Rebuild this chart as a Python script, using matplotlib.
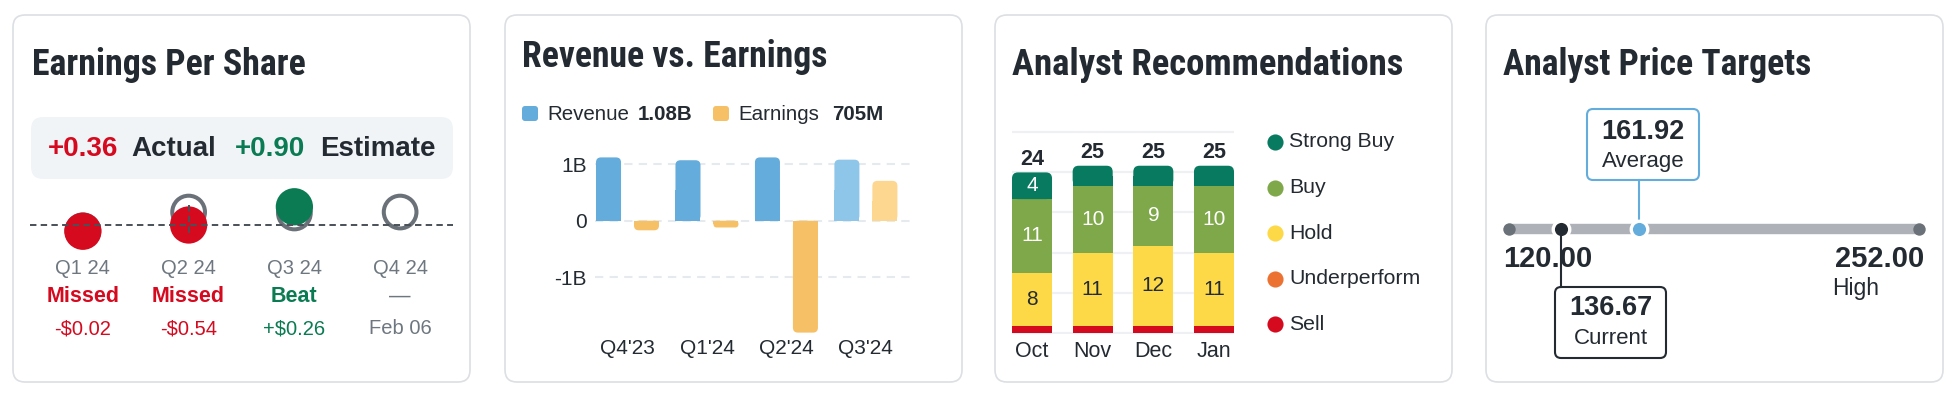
import os
import matplotlib
matplotlib.use("Agg")
import matplotlib.pyplot as plt
from matplotlib import font_manager as fm
from matplotlib.patches import FancyBboxPatch
from matplotlib.transforms import blended_transform_factory

# --- data ---
eps_quarters = ["Q1 24", "Q2 24", "Q3 24", "Q4 24"]
eps_actual = [-0.26, 0.00, 0.76]
eps_estimate = [-0.24, 0.54, 0.50, 0.54]
eps_status = ["Missed", "Missed", "Beat", "—"]
eps_diff = ["-$0.02", "-$0.54", "+$0.26", "Feb 06"]
eps_actual_latest = "+0.36"
eps_estimate_latest = "+0.90"

rev_quarters = ["Q4'23", "Q1'24", "Q2'24", "Q3'24"]
revenue_b = [1.12, 1.07, 1.12, 1.08]
earnings_b = [-0.17, -0.12, -1.98, 0.705]

rec_months = ["Oct", "Nov", "Dec", "Jan"]
strong_buy = [4, 3, 3, 3]
buy = [11, 10, 9, 10]
hold = [8, 11, 12, 11]
underperform = [0, 0, 0, 0]
sell = [1, 1, 1, 1]
rec_labels = ["Strong Buy", "Buy", "Hold", "Underperform", "Sell"]

price_low = 120.00
price_high = 252.00
price_current = 136.67
price_avg = 161.92

# --- style ---
W, H = 1958, 398
DARK = "#232a31"
GRAY = "#6e7780"
RED = "#d50a1f"
GREEN = "#0a7b52"
BLUE = "#64acdb"
BODY = ["Liberation Sans", "DejaVu Sans"]
plt.rcParams["font.family"] = BODY


def pick_title_font():
    # look for a condensed bold face, titles use a narrow heavy font
    order = ["robotocondensed", "liberationsansnarrow", "notosans", "opensans", "lato", "inter", "dejavu"]
    best, best_score = None, None
    for f in fm.fontManager.ttflist:
        key = (f.name + " " + os.path.basename(f.fname)).lower().replace(" ", "").replace("-", "")
        if "italic" in key or "oblique" in key or f.style != "normal":
            continue
        if not ("condensed" in key or "narrow" in key):
            continue
        if "bold" not in key or "semibold" in key or "extrabold" in key:
            continue
        width_pen = 0 if "extracondensed" not in key and "semicondensed" not in key else 1
        fam = next((i for i, o in enumerate(order) if o in key), 5)
        score = (fam, width_pen)
        if best_score is None or score < best_score:
            best, best_score = f.fname, score
    if best:
        return fm.FontProperties(fname=best)
    return fm.FontProperties(family="Liberation Sans", weight="bold")


TITLE_FP = pick_title_font()

fig = plt.figure(figsize=(W / 100, H / 100), dpi=100)
bg = fig.add_axes([0, 0, 1, 1])
bg.set_xlim(0, W)
bg.set_ylim(H, 0)
bg.axis("off")


def px_axes(x0, y0, x1, y1):
    ax = fig.add_axes([x0 / W, 1 - y1 / H, (x1 - x0) / W, (y1 - y0) / H])
    ax.patch.set_visible(False)
    for s in ax.spines.values():
        s.set_visible(False)
    return ax


def round_bars(ax, bars, r, aspect):
    # rounded far end, square base
    for b in bars:
        x, y, w, h = b.get_x(), b.get_y(), b.get_width(), b.get_height()
        y0, y1 = min(y, y + h), max(y, y + h)
        rr = min(r, w / 2, (y1 - y0) / aspect / 2)
        ax.add_patch(FancyBboxPatch((x, y0), w, y1 - y0,
                                    boxstyle=f"round,pad=0,rounding_size={rr}",
                                    mutation_aspect=aspect, fc=b.get_facecolor(),
                                    ec="none", zorder=b.get_zorder()))
        b.set_height(h / 2)


# panel cards
for x0 in [13, 505, 995, 1486]:
    bg.add_patch(FancyBboxPatch((x0, 15), 457, 367, boxstyle="round,pad=0,rounding_size=12",
                                fc="white", ec="#dcdfe3", lw=1.2))

titles = [("Earnings Per Share", 32, 75, 275), ("Revenue vs. Earnings", 522, 67, 306),
          ("Analyst Recommendations", 1012, 75, 392), ("Analyst Price Targets", 1503, 75, 309)]
renderer = fig.canvas.get_renderer()
for t, x, y, target in titles:
    tt = bg.text(x, y, t, fontproperties=TITLE_FP, fontsize=25, color=DARK, va="baseline")
    wpx = tt.get_window_extent(renderer).width
    tt.set_fontsize(min(27, 25 * target / wpx))

# ---------------- Panel 1: EPS ----------------
bg.add_patch(FancyBboxPatch((31, 117), 422, 62, boxstyle="round,pad=0,rounding_size=12",
                            fc="#f1f4f7", ec="none"))
for txt, x, c in [(eps_actual_latest, 48, RED), ("Actual", 131, DARK),
                  (eps_estimate_latest, 235, GREEN), ("Estimate", 320, DARK)]:
    bg.text(x, 149, txt, fontsize=20, fontweight="bold", color=c, va="center")

ax1 = px_axes(30, 185, 453, 255)
ax1.set_xlim(-0.5, 3.5)
ax1.set_ylim(-1.25, 1.667)
ax1.set_xticks([])
ax1.set_yticks([])
xs = list(range(len(eps_quarters)))
ax1.scatter(xs, eps_estimate, s=554, facecolor="none", edgecolor="#6b7178", lw=2.9, zorder=2)
act_colors = [RED if a < e else GREEN for a, e in zip(eps_actual, eps_estimate)]
ax1.scatter(xs[:len(eps_actual)], eps_actual, s=720, c=act_colors, lw=0, zorder=3)
ax1.axhline(0, color="#4a5058", lw=1.4, ls=(0, (3.3, 2.2)), zorder=4)
ax1.plot([1, 1], [eps_estimate[1] + 0.3, eps_actual[1] - 0.35], color="#4a5058",
         lw=1.4, ls=(0, (3.3, 2.2)), zorder=4)

tr1 = blended_transform_factory(ax1.transData, bg.transData)
for i, q in enumerate(eps_quarters):
    c = GRAY if i >= len(eps_actual) else act_colors[i]
    ax1.text(i, 269, q, transform=tr1, ha="center", va="center", fontsize=14.5, color=GRAY)
    ax1.text(i, 296, eps_status[i], transform=tr1, ha="center", va="center", fontsize=15.5,
             fontweight="bold" if i < len(eps_actual) else "normal", color=c)
    ax1.text(i, 329, eps_diff[i], transform=tr1, ha="center", va="center", fontsize=14.5, color=c)

# ---------------- Panel 2: Revenue vs Earnings ----------------
REV_C = [BLUE, BLUE, BLUE, "#8ec6ea"]
EAR_C = ["#f6c166", "#f6c166", "#f6c166", "#fdd68f"]
bg.add_patch(FancyBboxPatch((522, 106), 16, 15, boxstyle="round,pad=0,rounding_size=3", fc=BLUE, ec="none"))
bg.add_patch(FancyBboxPatch((713, 106), 16, 15, boxstyle="round,pad=0,rounding_size=3", fc="#f6c166", ec="none"))
bg.text(547, 114, "Revenue", fontsize=14.8, color=DARK, va="center")
bg.text(638, 114, "1.08B", fontsize=14.8, color=DARK, va="center", fontweight="bold")
bg.text(738, 114, "Earnings", fontsize=14.8, color=DARK, va="center")
bg.text(832, 114, "705M", fontsize=14.8, color=DARK, va="center", fontweight="bold")

ax2 = px_axes(595, 150, 912, 336)
ax2.set_xlim(-0.409, 3.58)
ax2.set_ylim(-2.04, 1.251)
for g in [-1, 0, 1]:
    ax2.axhline(g, color="#e6eaef", lw=1.5, ls=(0, (4, 3)), zorder=0)
xi = range(len(rev_quarters))
bw = 0.315
b1 = ax2.bar([i - 0.239 for i in xi], revenue_b, width=bw, color=REV_C, zorder=2)
b2 = ax2.bar([i + 0.239 for i in xi], earnings_b, width=bw, color=EAR_C, zorder=2)
round_bars(ax2, b1, 5 / 79.5, 79.5 / 56.5)
round_bars(ax2, b2, 5 / 79.5, 79.5 / 56.5)
ax2.set_yticks([-1, 0, 1], ["-1B", "0", "1B"])
ax2.set_xticks(list(xi), rev_quarters)
ax2.tick_params(length=0, labelsize=15, labelcolor=DARK)
ax2.tick_params(axis="y", pad=6)
ax2.tick_params(axis="x", pad=2)

# ---------------- Panel 3: Recommendations ----------------
REC_C = ["#077a5f", "#7ea84a", "#fdd947", "#ec7231", RED]
ax3 = px_axes(1012, 125, 1234, 334)
ax3.set_xlim(-0.33, 3.33)
ax3.set_ylim(-0.2, 31.1)
for g in range(0, 31, 6):
    ax3.axhline(g, color="#eef0f3", lw=1.6, zorder=0)
mx = range(len(rec_months))
bottom = [0] * len(rec_months)
stack = [sell, underperform, hold, buy, strong_buy]
stack_c = REC_C[::-1]
for vals, c in zip(stack, stack_c):
    bars = ax3.bar(mx, vals, width=0.66, bottom=bottom, color=c, zorder=2)
    if vals is strong_buy:
        round_bars(ax3, bars, 6 / 60.7, 60.7 / 6.67)
    for i, v in enumerate(vals):
        if v >= 4:
            tc = DARK if vals is hold else "white"
            ax3.text(i, bottom[i] + v / 2, str(v), ha="center", va="center",
                     fontsize=15, color=tc, zorder=5)
    bottom = [b + v for b, v in zip(bottom, vals)]
for i, tot in enumerate(bottom):
    ax3.annotate(str(tot), (i, tot), xytext=(0, 9.5), textcoords="offset points",
                 ha="center", va="center", fontsize=15.5, fontweight="bold", color=DARK)
ax3.set_yticks([])
ax3.set_xticks(list(mx), rec_months)
ax3.tick_params(length=0, labelsize=15.5, labelcolor=DARK, pad=5)

leg_y = [141.7, 187.7, 233.3, 279, 324.3]
for lab, c, y in zip(rec_labels, REC_C, leg_y):
    bg.scatter([1275], [y], s=135, color=c, lw=0)
    bg.text(1289, y, lab, fontsize=15.3, color=DARK, va="center")

# ---------------- Panel 4: Price targets ----------------
ax4 = px_axes(1490, 15, 1940, 382)
ppu = 410 / (price_high - price_low)
ax4.set_xlim(price_low - 19 / ppu, price_high + 21 / ppu)
ax4.set_ylim(367, 0)
ax4.set_xticks([])
ax4.set_yticks([])
TY = 229 - 15
ax4.plot([price_low, price_high], [TY, TY], color="#aeb2b8", lw=7.5, solid_capstyle="round", zorder=1)
ax4.scatter([price_low, price_high], [TY, TY], s=80, color="#6b7178", lw=0, zorder=2)
ax4.plot([price_current, price_current], [TY, 287 - 15], color=DARK, lw=1.5, zorder=6)
ax4.plot([price_avg, price_avg], [180 - 15, TY], color=BLUE, lw=1.5, zorder=1)
ax4.scatter([price_current], [TY], s=141, color=DARK, edgecolor="white", lw=2.4, zorder=3)
ax4.scatter([price_avg], [TY], s=141, color=BLUE, edgecolor="white", lw=2.4, zorder=3)

bg.text(1503, 259, f"{price_low:.2f}", fontsize=21, fontweight="bold", color=DARK, va="center")
bg.text(1924, 259, f"{price_high:.2f}", fontsize=21, fontweight="bold", color=DARK,
        va="center", ha="right")
bg.text(1832, 288, "High", fontsize=16.5, color=DARK, va="center")

bg.add_patch(FancyBboxPatch((1555, 287), 111, 71, boxstyle="round,pad=0,rounding_size=6",
                            fc="white", ec=DARK, lw=1.5, zorder=5))
bg.text(1610.5, 308, f"{price_current:.2f}", fontsize=19.5, fontweight="bold", color=DARK,
        ha="center", va="center", zorder=6)
bg.text(1610.5, 338, "Current", fontsize=16, color=DARK, ha="center", va="center", zorder=6)

bg.add_patch(FancyBboxPatch((1587, 109), 112, 71, boxstyle="round,pad=0,rounding_size=6",
                            fc="white", ec=BLUE, lw=1.5, zorder=5))
bg.text(1643, 132, f"{price_avg:.2f}", fontsize=19.5, fontweight="bold", color=DARK,
        ha="center", va="center", zorder=6)
bg.text(1643, 162, "Average", fontsize=16, color=DARK, ha="center", va="center", zorder=6)

fig.savefig("out.png", dpi=100)
